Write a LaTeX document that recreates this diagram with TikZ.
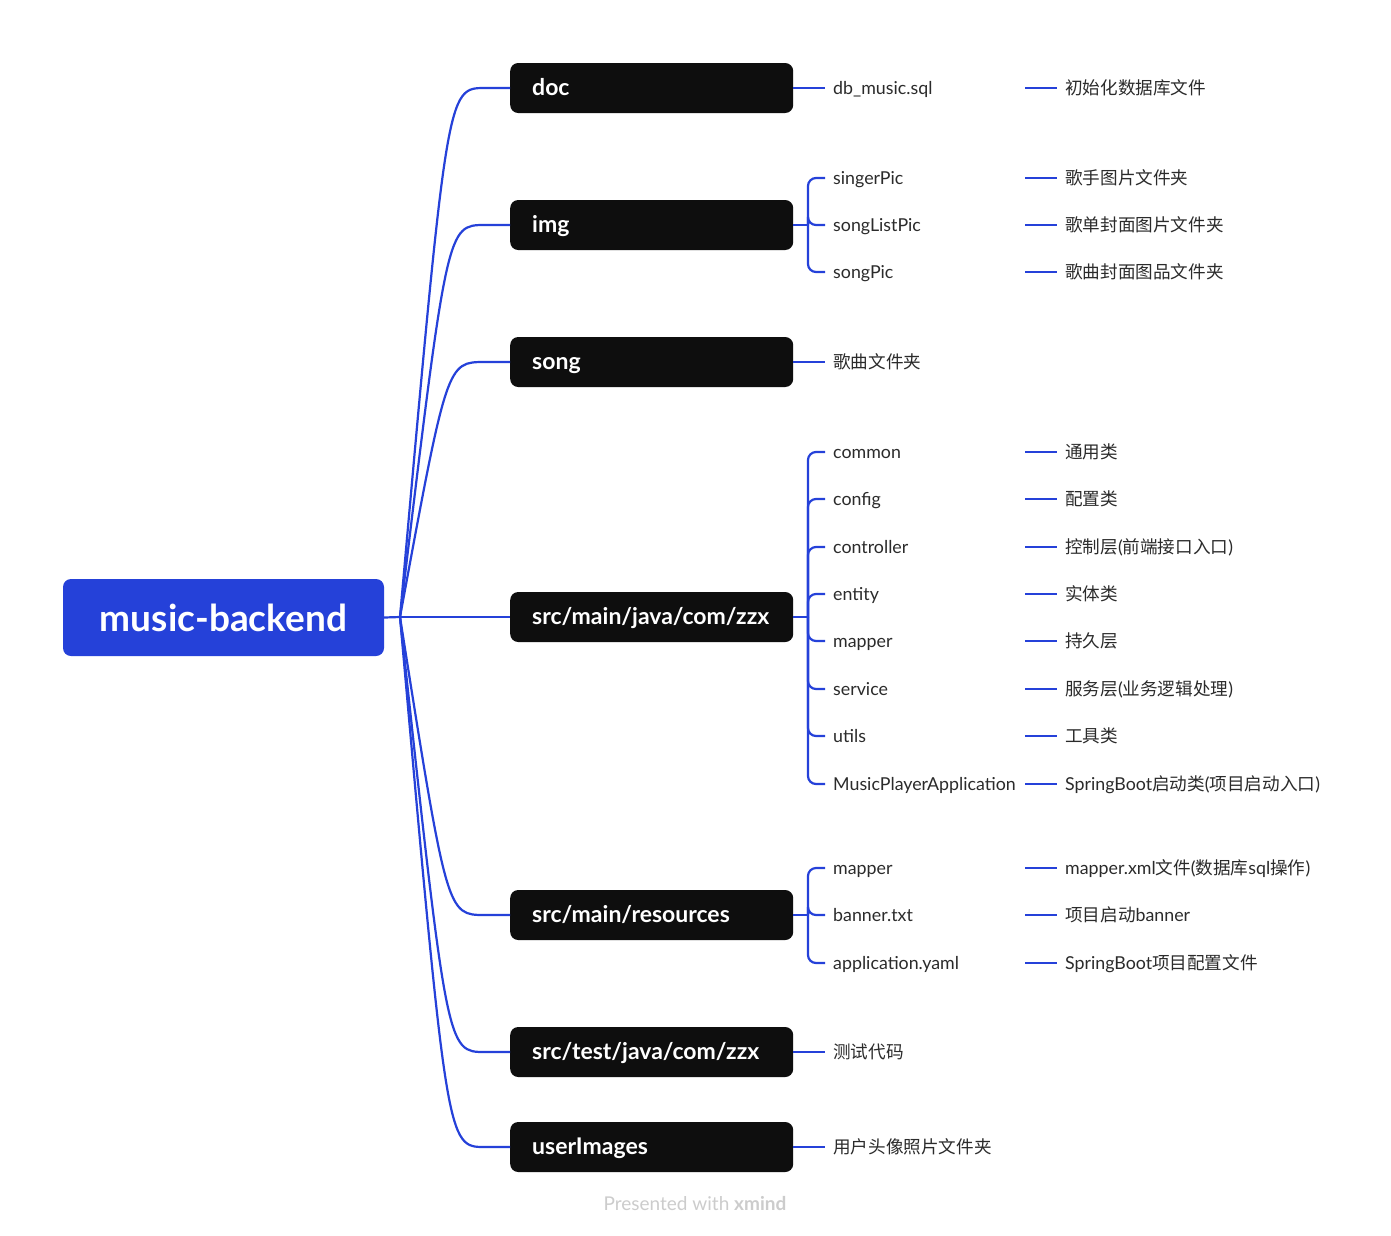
\documentclass[tikz,border=0pt]{standalone}
\usepackage{fontspec}
\setmainfont{Lato}
\newfontfamily\cjk{Noto Sans CJK SC}
\usetikzlibrary{calc}
\definecolor{xblue}{HTML}{2541D9}
\definecolor{xdark}{HTML}{0E0E0E}
\definecolor{xtext}{HTML}{2B2B2B}
\definecolor{xmark}{HTML}{CCCCCC}
\tikzset{
  rootbox/.style={fill=xblue, rounded corners=8pt, minimum width=321pt, minimum height=77pt,
    text=white, font=\fontsize{37}{42}\selectfont\bfseries, inner sep=0pt},
  branchbox/.style={fill=xdark, rounded corners=8pt, minimum width=283pt, minimum height=50pt,
    anchor=west, inner xsep=22pt, inner ysep=0pt, text width=239pt, align=left,
    text height=17pt, text depth=3pt,
    text=white, font=\fontsize{23}{27}\selectfont\bfseries},
  childtext/.style={anchor=west, inner xsep=8pt, inner ysep=0pt, text width=184pt, align=left,
    text height=15pt, text depth=2pt, font=\fontsize{17.8}{20}\selectfont, text=xtext},
  leaftext/.style={anchor=west, inner xsep=8pt, inner ysep=0pt,
    text height=15pt, text depth=2pt, font=\fontsize{17.8}{20}\selectfont, text=xtext},
  conn/.style={draw=xblue, line width=2.2pt},
  bracket/.style={draw=xblue, line width=2.2pt, rounded corners=8pt},
}
\newcommand{\zh}[1]{{\cjk\fontsize{17.6}{20}\selectfont #1}}
\begin{document}
\begin{tikzpicture}[x=1pt,y=-1pt]
\useasboundingbox[fill=white] (0,0) rectangle (1391,1235);

% root
\node[rootbox] (root) at (223.5,617.5) {music-backend};
\coordinate (fork) at (400,617);
\draw[conn] (root.east) -- (fork);

% branches
\node[branchbox] (doc) at (510,88) {doc};
\node[branchbox] (img) at (510,225) {img};
\node[branchbox] (song) at (510,362) {song};
\node[branchbox] (java) at (510,617) {src/main/java/com/zzx};
\node[branchbox] (res) at (510,915) {src/main/resources};
\node[branchbox] (test) at (510,1052) {src/test/java/com/zzx};
\node[branchbox] (uimg) at (510,1147) {userImages};

\foreach \b in {doc,img,song,res,test,uimg}{
  \draw[conn] (fork) .. controls ($(\b.west)+(-63,0)$) and ($(\b.west)+(-63,0)$) .. ($(\b.west)+(-25,0)$) -- (\b.west);
}
\draw[conn] (fork) -- (java.west);

% doc
\node[childtext] (dbsql) at (825,88) {db\_music.sql};
\node[leaftext] (dbsqlL) at (1057,88) {\zh{初始化数据库文件}};
\draw[conn] (doc.east) -- (dbsql.west);
\draw[conn] (dbsql.east) -- (dbsqlL.west);

% img
\coordinate (imgJ) at (808,225);
\draw[conn] (img.east) -- (imgJ);
\node[childtext] (singer) at (825,178) {singerPic};
\node[childtext] (slist) at (825,225) {songListPic};
\node[childtext] (spic) at (825,272) {songPic};
\node[leaftext] (singerL) at (1057,178) {\zh{歌手图片文件夹}};
\node[leaftext] (slistL) at (1057,225) {\zh{歌单封面图片文件夹}};
\node[leaftext] (spicL) at (1057,272) {\zh{歌曲封面图品文件夹}};
\foreach \c in {singer,slist,spic}{
  \draw[bracket] (imgJ) |- (\c.west);
  \draw[conn] (\c.east) -- (\c L.west);
}

% song
\node[leaftext] (songL) at (825,362) {\zh{歌曲文件夹}};
\draw[conn] (song.east) -- (songL.west);

% java
\coordinate (javaJ) at (808,617);
\draw[conn] (java.east) -- (javaJ);
\node[childtext] (common) at (825,452) {common};
\node[childtext] (config) at (825,499) {config};
\node[childtext] (ctrl) at (825,547) {controller};
\node[childtext] (entity) at (825,594) {entity};
\node[childtext] (mapper) at (825,641) {mapper};
\node[childtext] (service) at (825,689) {service};
\node[childtext] (utils) at (825,736) {utils};
\node[childtext] (mpa) at (825,784) {MusicPlayerApplication};
\node[leaftext] (commonL) at (1057,452) {\zh{通用类}};
\node[leaftext] (configL) at (1057,499) {\zh{配置类}};
\node[leaftext] (ctrlL) at (1057,547) {\zh{控制层}(\zh{前端接口入口})};
\node[leaftext] (entityL) at (1057,594) {\zh{实体类}};
\node[leaftext] (mapperL) at (1057,641) {\zh{持久层}};
\node[leaftext] (serviceL) at (1057,689) {\zh{服务层}(\zh{业务逻辑处理})};
\node[leaftext] (utilsL) at (1057,736) {\zh{工具类}};
\node[leaftext] (mpaL) at (1057,784) {SpringBoot\zh{启动类}(\zh{项目启动入口})};
\foreach \c in {common,config,ctrl,entity,mapper,service,utils,mpa}{
  \draw[bracket] (javaJ) |- (\c.west);
  \draw[conn] (\c.east) -- (\c L.west);
}

% resources
\coordinate (resJ) at (808,915);
\draw[conn] (res.east) -- (resJ);
\node[childtext] (rmap) at (825,868) {mapper};
\node[childtext] (banner) at (825,915) {banner.txt};
\node[childtext] (yaml) at (825,963) {application.yaml};
\node[leaftext] (rmapL) at (1057,868) {mapper.xml\zh{文件}(\zh{数据库}sql\zh{操作})};
\node[leaftext] (bannerL) at (1057,915) {\zh{项目启动}banner};
\node[leaftext] (yamlL) at (1057,963) {SpringBoot\zh{项目配置文件}};
\foreach \c in {rmap,banner,yaml}{
  \draw[bracket] (resJ) |- (\c.west);
  \draw[conn] (\c.east) -- (\c L.west);
}

% test
\node[leaftext] (testL) at (825,1052) {\zh{测试代码}};
\draw[conn] (test.east) -- (testL.west);

% userImages
\node[leaftext] (uimgL) at (825,1147) {\zh{用户头像照片文件夹}};
\draw[conn] (uimg.east) -- (uimgL.west);

% watermark
\node[text=xmark, font=\fontsize{19}{22}\selectfont] (mark) at (695,1203) {Presented with \textbf{xmind}};
\end{tikzpicture}
\end{document}
